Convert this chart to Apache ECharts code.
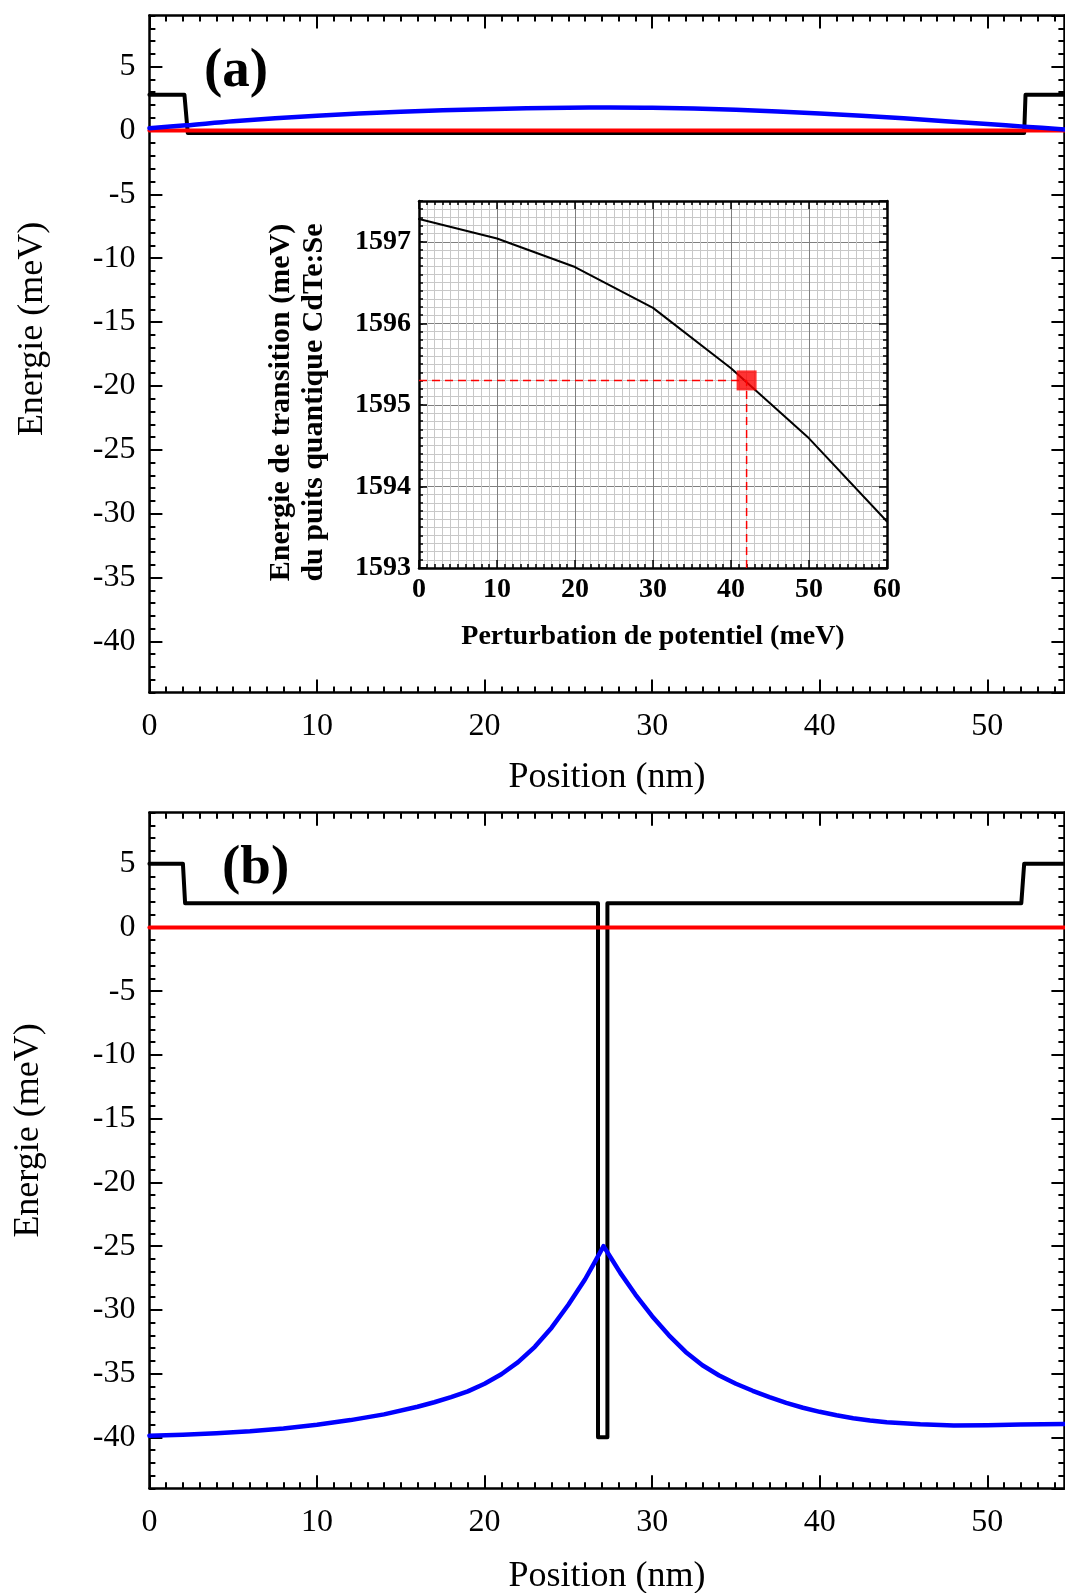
<!DOCTYPE html>
<html>
<head>
<meta charset="utf-8">
<title>Energie - Position</title>
<script src="https://cdn.jsdelivr.net/npm/echarts@6/dist/echarts.min.js"></script>
<style>
html, body { margin: 0; padding: 0; background: #fff; }
#chart { width: 1065px; height: 1593px; }
</style>
</head>
<body>
<div id="chart"></div>
<script>
// panel (a)
const posBarrierA = [0, 2.09, 2.29, 52.2, 52.28, 54.6]
const potBarrierA = [2.8, 2.8, -0.2, -0.2, 2.8, 2.8]
const posRefA = [0, 54.6]
const potRefA = [0, 0]
const posWaveA = [0, 2.2, 5, 10, 15, 20, 25, 27.5, 30, 35, 40, 45, 50, 52.2, 54.6]
const potWaveA = [0.18, 0.4, 0.72, 1.15, 1.47, 1.67, 1.78, 1.8, 1.78, 1.62, 1.33, 0.95, 0.5, 0.3, 0.08]

// panel (b)
const posBarrierB = [0, 2.0, 2.13, 26.77, 26.77, 27.33, 27.33, 52.03, 52.2, 54.6]
const potBarrierB = [5, 5, 1.9, 1.9, -40, -40, 1.9, 1.9, 5, 5]
const posRefB = [0, 54.6]
const potRefB = [0, 0]
const posWaveB = [0, 2, 4, 6, 8, 10, 12, 14, 16, 17, 18, 19, 20, 21, 22, 23, 24, 25, 26, 26.6, 27.1,
  27.6, 28.1, 29, 30, 31, 32, 33, 34, 35, 36, 37, 38, 39, 40, 41, 42, 43, 44, 46, 48, 50, 52, 54.6]
const potWaveB = [-39.87, -39.8, -39.68, -39.52, -39.3, -39.02, -38.65, -38.2, -37.6, -37.25, -36.85, -36.4, -35.8, -35.05, -34.1, -32.9, -31.4, -29.6, -27.6, -26.2, -25.0,
  -26.05, -27.1, -28.8, -30.5, -32.0, -33.3, -34.35, -35.15, -35.8, -36.35, -36.85, -37.3, -37.68, -38.0, -38.27, -38.5, -38.68, -38.82, -38.98, -39.08, -39.06, -39.0, -38.95]

// inset
const perturbation = [0, 10, 20, 30, 40, 50, 60]
const transition = [1597.28, 1597.04, 1596.69, 1596.19, 1595.45, 1594.59, 1593.57]
const pointX = [42]
const pointY = [1595.3]

const FONT = "'Liberation Serif', 'Times New Roman', serif"
const XMAX = 54.6
const YMIN = -44
const YMAX = 9
const INSET_XMIN = 0
const INSET_XMAX = 60
const INSET_YMIN = 1593
const INSET_YMAX = 1597.5

function zip(xs, ys) {
  return xs.map((x, i) => [x, ys[i]])
}

function mainX(grid, nameGap) {
  const line = {show: true, onZero: false, lineStyle: {color: '#000', width: 2.5}}
  const noLine = {show: false, onZero: false}
  return [
    {
      gridIndex: grid, type: 'value', position: 'bottom', min: 0, max: XMAX, interval: 10,
      axisLine: line,
      axisTick: {inside: true, length: 13, lineStyle: {color: '#000', width: 2}},
      axisLabel: {fontFamily: FONT, fontSize: 32, color: '#000', margin: 18, showMaxLabel: false},
      splitLine: {show: false},
      name: 'Position (nm)', nameLocation: 'middle', nameGap: nameGap,
      nameTextStyle: {fontFamily: FONT, fontSize: 36, color: '#000'}
    },
    {
      gridIndex: grid, type: 'value', position: 'bottom', min: 0, max: XMAX, interval: 1,
      axisLine: noLine,
      axisTick: {inside: true, length: 6, lineStyle: {color: '#000', width: 2}},
      axisLabel: {show: false}, splitLine: {show: false}
    },
    {
      gridIndex: grid, type: 'value', position: 'top', min: 0, max: XMAX, interval: 10,
      axisLine: line,
      axisTick: {inside: true, length: 13, lineStyle: {color: '#000', width: 2}},
      axisLabel: {show: false}, splitLine: {show: false}
    },
    {
      gridIndex: grid, type: 'value', position: 'top', min: 0, max: XMAX, interval: 1,
      axisLine: noLine,
      axisTick: {inside: true, length: 6, lineStyle: {color: '#000', width: 2}},
      axisLabel: {show: false}, splitLine: {show: false}
    }
  ]
}

function mainY(grid, nameGap, shiftUp) {
  const line = {show: true, onZero: false, lineStyle: {color: '#000', width: 2.5}}
  const noLine = {show: false, onZero: false}
  const major = {
    min: YMIN, max: YMAX, splitNumber: 10, minInterval: 5, maxInterval: 5
  }
  return [
    Object.assign({
      gridIndex: grid, type: 'value', position: 'left',
      axisLine: line,
      axisTick: {inside: true, length: 13, lineStyle: {color: '#000', width: 2}},
      axisLabel: {fontFamily: FONT, fontSize: 32, color: '#000', margin: 14, showMinLabel: false, showMaxLabel: false},
      splitLine: {show: false},
      name: 'Energie (meV)', nameLocation: 'middle', nameGap: nameGap,
      nameTextStyle: {fontFamily: FONT, fontSize: 36, color: '#000', padding: [0, 0, 0, shiftUp * 2]}
    }, major),
    {
      gridIndex: grid, type: 'value', position: 'left', min: YMIN, max: YMAX, interval: 1,
      axisLine: noLine,
      axisTick: {inside: true, length: 6, lineStyle: {color: '#000', width: 2}},
      axisLabel: {show: false}, splitLine: {show: false}
    },
    Object.assign({
      gridIndex: grid, type: 'value', position: 'right',
      axisLine: line,
      axisTick: {inside: true, length: 13, lineStyle: {color: '#000', width: 2}},
      axisLabel: {show: false}, splitLine: {show: false}
    }, major),
    {
      gridIndex: grid, type: 'value', position: 'right', min: YMIN, max: YMAX, interval: 1,
      axisLine: noLine,
      axisTick: {inside: true, length: 6, lineStyle: {color: '#000', width: 2}},
      axisLabel: {show: false}, splitLine: {show: false}
    }
  ]
}

const insetTick = {inside: true, length: 8, lineStyle: {color: '#000', width: 1.5}}
const insetMinorTick = {show: true, splitNumber: 10, length: 4, lineStyle: {color: '#000', width: 1.5}}
const insetLine = {show: true, onZero: false, lineStyle: {color: '#000', width: 2.5}}
const insetLabel = {fontFamily: FONT, fontSize: 28, fontWeight: 'bold', color: '#000', margin: 8}

const insetX = [
  {
    gridIndex: 2, type: 'value', position: 'bottom', min: INSET_XMIN, max: INSET_XMAX, interval: 10, z: 1,
    axisLine: insetLine, axisTick: insetTick, minorTick: insetMinorTick,
    axisLabel: insetLabel,
    splitLine: {show: true, lineStyle: {color: '#7f7f7f', width: 1}},
    minorSplitLine: {show: true, lineStyle: {color: '#c8c8c8', width: 1}},
    name: 'Perturbation de potentiel (meV)', nameLocation: 'middle', nameGap: 55,
    nameTextStyle: {fontFamily: FONT, fontSize: 28, fontWeight: 'bold', color: '#000'}
  },
  {
    gridIndex: 2, type: 'value', position: 'top', min: INSET_XMIN, max: INSET_XMAX, interval: 10, z: 1,
    axisLine: insetLine, axisTick: insetTick, minorTick: insetMinorTick,
    axisLabel: {show: false}, splitLine: {show: false}
  }
]

const insetY = [
  {
    gridIndex: 2, type: 'value', position: 'left', min: INSET_YMIN, max: INSET_YMAX, interval: 1, z: 1,
    axisLine: insetLine, axisTick: insetTick,
    axisLabel: Object.assign({showMaxLabel: false, formatter: v => String(v)}, insetLabel),
    splitLine: {show: true, lineStyle: {color: '#7f7f7f', width: 1}},
    name: 'Energie de transition (meV)\ndu puits quantique CdTe:Se', nameLocation: 'middle', nameGap: 88,
    nameTextStyle: {fontFamily: FONT, fontSize: 30, fontWeight: 'bold', color: '#000', lineHeight: 33, padding: [0, 36, 0, 0]}
  },
  {
    gridIndex: 2, type: 'value', position: 'left', min: INSET_YMIN, max: INSET_YMAX, interval: 0.1, z: 0,
    axisLine: {show: false, onZero: false},
    axisTick: {inside: true, length: 4, lineStyle: {color: '#000', width: 1.5}},
    axisLabel: {show: false},
    splitLine: {show: true, lineStyle: {color: '#c8c8c8', width: 1}}
  },
  {
    gridIndex: 2, type: 'value', position: 'right', min: INSET_YMIN, max: INSET_YMAX, interval: 1, z: 1,
    axisLine: insetLine, axisTick: insetTick,
    axisLabel: {show: false}, splitLine: {show: false}
  },
  {
    gridIndex: 2, type: 'value', position: 'right', min: INSET_YMIN, max: INSET_YMAX, interval: 0.1, z: 1,
    axisLine: {show: false, onZero: false},
    axisTick: {inside: true, length: 4, lineStyle: {color: '#000', width: 1.5}},
    axisLabel: {show: false}, splitLine: {show: false}
  }
]

function curve(xi, yi, data, color, width, z, smooth) {
  return {
    type: 'line', xAxisIndex: xi, yAxisIndex: yi, data: data,
    showSymbol: false, symbol: 'none', smooth: smooth || false, z: z,
    lineStyle: {color: color, width: width, cap: 'round', join: 'round'},
    silent: true, animation: false
  }
}

const chart = echarts.init(document.getElementById('chart'), null, {renderer: 'canvas'})

const option = {
  animation: false,
  backgroundColor: '#fff',
  title: [
    {text: '(a)', left: 204, top: 44, padding: 0,
      textStyle: {fontFamily: FONT, fontSize: 55, fontWeight: 'bold', color: '#000'}},
    {text: '(b)', left: 222, top: 841, padding: 0,
      textStyle: {fontFamily: FONT, fontSize: 55, fontWeight: 'bold', color: '#000'}}
  ],
  grid: [
    {left: 149.4, top: 15.5, width: 915, height: 677, outerBoundsMode: 'none', containLabel: false},
    {left: 149.4, top: 812.7, width: 915, height: 675.6, outerBoundsMode: 'none', containLabel: false},
    {left: 419, top: 201, width: 468, height: 367, show: true, backgroundColor: '#fff', borderWidth: 0,
      outerBoundsMode: 'none', containLabel: false}
  ],
  xAxis: mainX(0, 67).concat(mainX(1, 70), insetX),
  yAxis: mainY(0, 99, 25).concat(mainY(1, 103, 20), insetY),
  series: [
    curve(0, 0, zip(posBarrierA, potBarrierA), '#000', 4, 3),
    curve(0, 0, zip(posRefA, potRefA), '#ff0000', 4, 4),
    curve(0, 0, zip(posWaveA, potWaveA), '#0000ff', 4.5, 5, 0.3),

    curve(4, 4, zip(posBarrierB, potBarrierB), '#000', 4, 3),
    curve(4, 4, zip(posRefB, potRefB), '#ff0000', 4, 4),
    curve(4, 4, zip(posWaveB, potWaveB), '#0000ff', 4.5, 5),

    curve(8, 8, zip(perturbation, transition), '#000', 2, 3),
    {
      type: 'line', xAxisIndex: 8, yAxisIndex: 8, symbol: 'none', z: 4, silent: true,
      data: [[INSET_XMIN, pointY[0]], [pointX[0], pointY[0]]],
      lineStyle: {color: '#ff0000', width: 1.5, type: [8, 5]}
    },
    {
      type: 'line', xAxisIndex: 8, yAxisIndex: 8, symbol: 'none', z: 4, silent: true,
      data: [[pointX[0], INSET_YMIN], [pointX[0], pointY[0]]],
      lineStyle: {color: '#ff0000', width: 1.5, type: [8, 5]}
    },
    {
      type: 'scatter', xAxisIndex: 8, yAxisIndex: 8, symbol: 'rect', symbolSize: 20, z: 6, silent: true,
      data: zip(pointX, pointY),
      itemStyle: {color: '#ff0000'}
    }
  ]
}

chart.setOption(option)
</script>
</body>
</html>
